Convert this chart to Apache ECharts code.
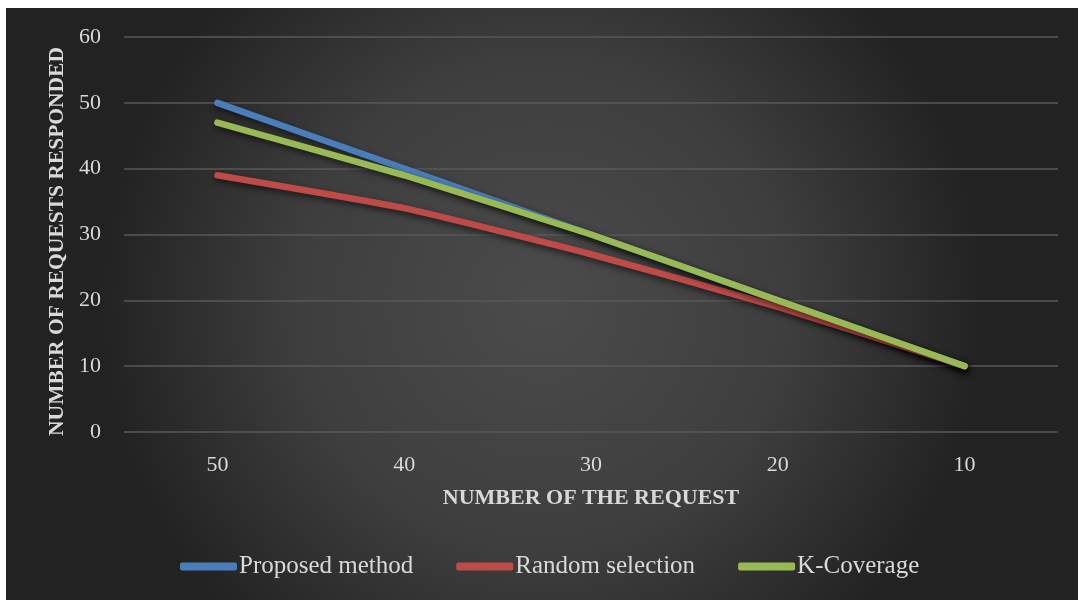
<!DOCTYPE html>
<html><head><meta charset="utf-8">
<script src="https://cdn.jsdelivr.net/npm/echarts@6/dist/echarts.min.js"></script>
<style>
html,body{margin:0;padding:0;background:#fff;width:1078px;height:600px;overflow:hidden}
#c{position:absolute;left:6px;top:8px;width:1072px;height:592px}
</style></head>
<body><div id="c"></div>
<script>
const categories = ['50','40','30','20','10'];
const proposed = [50, 40, 30, 20, 10];
const randomSel = [39, 34, 27, 19, 10];
const kCoverage = [47, 39, 30, 20, 10];
const seriesNames = ['Proposed method', 'Random selection', 'K-Coverage'];
const colors = ['#4a7ebb', '#be4b48', '#98b954'];

const chart = echarts.init(document.getElementById('c'));
const font = 'Liberation Serif, DejaVu Serif, serif';
function line(name, data, color){
  return {
    name, type:'line', data, showSymbol:false, symbol:'none', smooth:0.15,
    lineStyle:{width:6.5, color, cap:'round', join:'round',
      shadowColor:'rgba(0,0,0,0.6)', shadowBlur:6, shadowOffsetY:3, shadowOffsetX:1},
    itemStyle:{color}
  };
}
chart.setOption({
  backgroundColor:{type:'radial', x:0.5, y:0.5, r:0.75,
    colorStops:[{offset:0,color:'#4b4b4b'},{offset:0.55,color:'#3e3e3e'},{offset:1,color:'#222222'}]},
  textStyle:{fontFamily:font},
  animation:false,
  grid:{left:118, right:20, top:29, bottom:168},
  legend:{
    bottom:16, left:169, icon:'roundRect', itemWidth:57, itemHeight:8, itemGap:43,
    textStyle:{color:'#d9d9d9', fontSize:25, fontFamily:font, padding:[0,0,0,-3]},
    data:seriesNames
  },
  xAxis:{
    type:'category', data:categories, boundaryGap:true,
    name:'NUMBER OF THE REQUEST', nameLocation:'middle', nameGap:55,
    nameTextStyle:{color:'#d9d9d9', fontSize:22, fontWeight:'bold', fontFamily:font},
    axisLine:{show:false}, axisTick:{show:false},
    axisLabel:{color:'#d9d9d9', fontSize:22, margin:22, fontFamily:font}
  },
  yAxis:{
    type:'value', min:0, max:60, interval:10,
    name:'NUMBER OF REQUESTS RESPONDED', nameLocation:'middle', nameGap:55, nameRotate:90,
    nameTextStyle:{color:'#d9d9d9', fontSize:21.5, fontWeight:'bold', fontFamily:font, padding:[0,0,0,-14]},
    axisLine:{show:false}, axisTick:{show:false},
    axisLabel:{color:'#d9d9d9', fontSize:22, margin:23, fontFamily:font},
    splitLine:{lineStyle:{color:'#595959', width:1.5}}
  },
  series:[
    line(seriesNames[0], proposed, colors[0]),
    line(seriesNames[1], randomSel, colors[1]),
    line(seriesNames[2], kCoverage, colors[2])
  ]
});
</script></body></html>
